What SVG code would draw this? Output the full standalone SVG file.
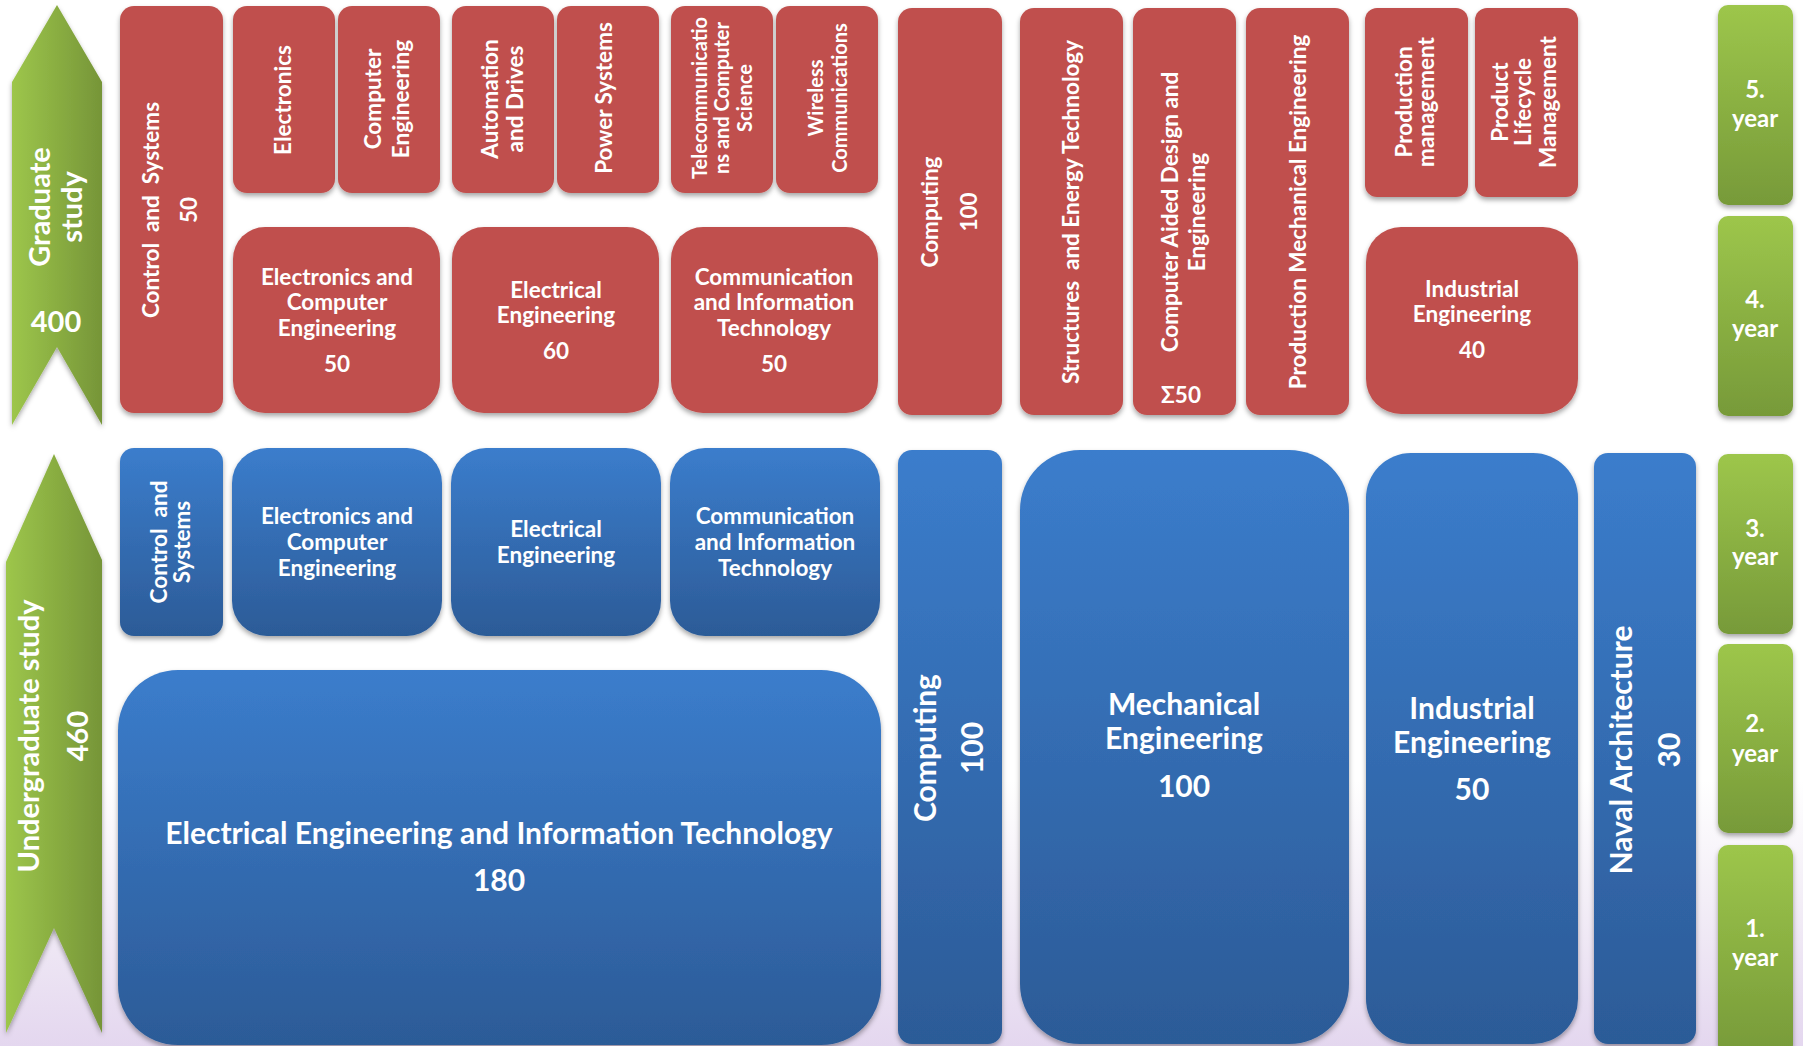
<svg xmlns="http://www.w3.org/2000/svg" width="1803" height="1046" viewBox="0 0 1803 1046">
<defs>
<linearGradient id="bg" x1="0" y1="0" x2="0" y2="1"><stop offset="0" stop-color="#ffffff"/><stop offset="0.45" stop-color="#f3eef7"/><stop offset="1" stop-color="#e4d7ef"/></linearGradient>
<linearGradient id="blue" x1="0" y1="0" x2="0" y2="1"><stop offset="0" stop-color="#3b7dcc"/><stop offset="1" stop-color="#2c5b97"/></linearGradient>
<linearGradient id="greenV" x1="0" y1="0" x2="0" y2="1"><stop offset="0" stop-color="#9dc64b"/><stop offset="1" stop-color="#779a39"/></linearGradient>
<linearGradient id="greenH" x1="0" y1="0" x2="1" y2="0"><stop offset="0" stop-color="#9dc64b"/><stop offset="1" stop-color="#769538"/></linearGradient>
<filter id="sh" x="-10%" y="-10%" width="120%" height="120%"><feDropShadow dx="0" dy="3" stdDeviation="2.5" flood-color="#000" flood-opacity="0.35"/></filter>
</defs>
<style>
.red{fill:#c0504d;filter:url(#sh)}
.blu{fill:url(#blue);filter:url(#sh)}
.grn{fill:url(#greenV);filter:url(#sh)}
.arr{fill:url(#greenH);filter:url(#sh)}
text{font-family:Lato,"Open Sans","Liberation Sans",sans-serif;font-weight:700;fill:#fff;text-anchor:middle}
.s{font-size:22.5px}
.m{font-size:20px}
.b{font-size:30px}
.yr{font-size:24px}
.g{font-size:29px}
</style>
<rect x="0" y="0" width="1803" height="1046" fill="#ffffff"/>
<rect x="0" y="780" width="1803" height="266" fill="url(#bg)"/>

<g id="arrow-graduate">
<polygon class="arr" points="57,5 102,82 102,425 57,347 12,425 12,82"/>
<text class="g" transform="translate(50,207) rotate(-90)">Graduate</text>
<text class="g" transform="translate(82,207) rotate(-90)">study</text>
<text class="g" x="56" y="332">400</text>
</g>
<g id="arrow-undergraduate">
<polygon class="arr" points="54,454 102,560 102,1033 54,928 6,1033 6,562"/>
<text class="g" transform="translate(39,736) rotate(-90)">Undergraduate study</text>
<text class="g" transform="translate(88,736) rotate(-90)">460</text>
</g>

<g id="g-control">
<rect class="red" x="120" y="6" width="103" height="407" rx="14"/>
<text class="s" xml:space="preserve" transform="translate(159,210) rotate(-90)">Control  and  Systems</text>
<text class="s" transform="translate(197,210) rotate(-90)">50</text>
</g>
<g id="g-electronics">
<rect class="red" x="233" y="6" width="102" height="187" rx="14"/>
<text class="s" transform="translate(291,100) rotate(-90)">Electronics</text>
</g>
<g id="g-computer-eng">
<rect class="red" x="338" y="6" width="102" height="187" rx="14"/>
<text class="s" transform="translate(381,99) rotate(-90)">Computer</text>
<text class="s" transform="translate(409,99) rotate(-90)">Engineering</text>
</g>
<g id="g-automation">
<rect class="red" x="452" y="6" width="102" height="187" rx="14"/>
<text class="s" transform="translate(498,99) rotate(-90)">Automation</text>
<text class="s" transform="translate(523,99) rotate(-90)">and Drives</text>
</g>
<g id="g-power">
<rect class="red" x="557" y="6" width="102" height="187" rx="14"/>
<text class="s" transform="translate(612,98) rotate(-90)">Power Systems</text>
</g>
<g id="g-telecom">
<rect class="red" x="671" y="6" width="102" height="187" rx="14"/>
<text class="m" transform="translate(707,98) rotate(-90)">Telecommunicatio</text>
<text class="m" transform="translate(729,98) rotate(-90)">ns and Computer</text>
<text class="m" transform="translate(752,98) rotate(-90)">Science</text>
</g>
<g id="g-wireless">
<rect class="red" x="776" y="6" width="102" height="187" rx="14"/>
<text class="m" transform="translate(823,98) rotate(-90)">Wireless</text>
<text class="m" transform="translate(847,98) rotate(-90)">Communications</text>
</g>
<g id="g-ece-grad">
<rect class="red" x="233" y="227" width="207" height="186" rx="32"/>
<text class="s" x="337" y="285">Electronics and</text>
<text class="s" x="337" y="310">Computer</text>
<text class="s" x="337" y="336">Engineering</text>
<text class="s" x="337" y="372">50</text>
</g>
<g id="g-ee-grad">
<rect class="red" x="452" y="227" width="207" height="186" rx="32"/>
<text class="s" x="556" y="298">Electrical</text>
<text class="s" x="556" y="323">Engineering</text>
<text class="s" x="556" y="359">60</text>
</g>
<g id="g-cit-grad">
<rect class="red" x="671" y="227" width="207" height="186" rx="32"/>
<text class="s" x="774" y="285">Communication</text>
<text class="s" x="774" y="310">and Information</text>
<text class="s" x="774" y="336">Technology</text>
<text class="s" x="774" y="372">50</text>
</g>
<g id="g-computing-grad">
<rect class="red" x="898" y="8" width="104" height="407" rx="14"/>
<text class="s" transform="translate(938,212) rotate(-90)">Computing</text>
<text class="s" transform="translate(977,212) rotate(-90)">100</text>
</g>
<g id="g-structures">
<rect class="red" x="1020" y="8" width="103" height="407" rx="14"/>
<text class="s" xml:space="preserve" transform="translate(1079,212) rotate(-90)">Structures  and Energy Technology</text>
</g>
<g id="g-cad">
<rect class="red" x="1133" y="8" width="103" height="407" rx="14"/>
<text class="s" transform="translate(1178,212) rotate(-90)">Computer Aided Design and</text>
<text class="s" transform="translate(1205,212) rotate(-90)">Engineering</text>
<text class="s" x="1181" y="403">Σ50</text>
</g>
<g id="g-pme">
<rect class="red" x="1246" y="8" width="103" height="407" rx="14"/>
<text class="s" transform="translate(1306,212) rotate(-90)">Production Mechanical Engineering</text>
</g>
<g id="g-prodmgmt">
<rect class="red" x="1365" y="8" width="103" height="189" rx="12"/>
<text class="s" transform="translate(1412,102) rotate(-90)">Production</text>
<text class="s" transform="translate(1434,102) rotate(-90)">management</text>
</g>
<g id="g-plm">
<rect class="red" x="1475" y="8" width="103" height="189" rx="12"/>
<text class="s" transform="translate(1508,102) rotate(-90)">Product</text>
<text class="s" transform="translate(1531,102) rotate(-90)">Lifecycle</text>
<text class="s" transform="translate(1556,102) rotate(-90)">Management</text>
</g>
<g id="g-ie-grad">
<rect class="red" x="1366" y="227" width="212" height="187" rx="35"/>
<text class="s" x="1472" y="297">Industrial</text>
<text class="s" x="1472" y="322">Engineering</text>
<text class="s" x="1472" y="358">40</text>
</g>

<g id="u-control">
<rect class="blu" x="120" y="448" width="103" height="188" rx="14"/>
<text class="s" xml:space="preserve" transform="translate(167,542) rotate(-90)">Control  and</text>
<text class="s" transform="translate(190,542) rotate(-90)">Systems</text>
</g>
<g id="u-ece">
<rect class="blu" x="232" y="448" width="210" height="188" rx="35"/>
<text class="s" x="337" y="524">Electronics and</text>
<text class="s" x="337" y="550">Computer</text>
<text class="s" x="337" y="576">Engineering</text>
</g>
<g id="u-ee">
<rect class="blu" x="451" y="448" width="210" height="188" rx="35"/>
<text class="s" x="556" y="537">Electrical</text>
<text class="s" x="556" y="563">Engineering</text>
</g>
<g id="u-cit">
<rect class="blu" x="670" y="448" width="210" height="188" rx="35"/>
<text class="s" x="775" y="524">Communication</text>
<text class="s" x="775" y="550">and Information</text>
<text class="s" x="775" y="576">Technology</text>
</g>
<g id="u-eeit">
<rect class="blu" x="118" y="670" width="763" height="375" rx="60"/>
<text class="b" x="499" y="844">Electrical Engineering and Information Technology</text>
<text class="b" x="499" y="891">180</text>
</g>
<g id="u-computing">
<rect class="blu" x="898" y="450" width="104" height="594" rx="14"/>
<text class="b" transform="translate(936,748) rotate(-90)">Computing</text>
<text class="b" transform="translate(983,748) rotate(-90)">100</text>
</g>
<g id="u-mech">
<rect class="blu" x="1020" y="450" width="329" height="594" rx="60"/>
<text class="b" x="1184" y="715">Mechanical</text>
<text class="b" x="1184" y="749">Engineering</text>
<text class="b" x="1184" y="797">100</text>
</g>
<g id="u-ie">
<rect class="blu" x="1366" y="453" width="212" height="591" rx="45"/>
<text class="b" x="1472" y="719">Industrial</text>
<text class="b" x="1472" y="753">Engineering</text>
<text class="b" x="1472" y="800">50</text>
</g>
<g id="u-naval">
<rect class="blu" x="1594" y="453" width="102" height="591" rx="14"/>
<text class="b" transform="translate(1632,750) rotate(-90)">Naval Architecture</text>
<text class="b" transform="translate(1680,750) rotate(-90)">30</text>
</g>

<g id="year-5">
<rect class="grn" x="1718" y="5" width="75" height="200" rx="10"/>
<text class="yr" x="1755" y="98">5.</text>
<text class="yr" x="1755" y="127">year</text>
</g>
<g id="year-4">
<rect class="grn" x="1718" y="216" width="75" height="200" rx="10"/>
<text class="yr" x="1755" y="308">4.</text>
<text class="yr" x="1755" y="337">year</text>
</g>
<g id="year-3">
<rect class="grn" x="1718" y="454" width="75" height="180" rx="10"/>
<text class="yr" x="1755" y="537">3.</text>
<text class="yr" x="1755" y="565">year</text>
</g>
<g id="year-2">
<rect class="grn" x="1718" y="644" width="75" height="189" rx="10"/>
<text class="yr" x="1755" y="732">2.</text>
<text class="yr" x="1755" y="762">year</text>
</g>
<g id="year-1">
<rect class="grn" x="1718" y="845" width="75" height="210" rx="10"/>
<text class="yr" x="1755" y="937">1.</text>
<text class="yr" x="1755" y="966">year</text>
</g>
<g id="connectors"/>
</svg>
